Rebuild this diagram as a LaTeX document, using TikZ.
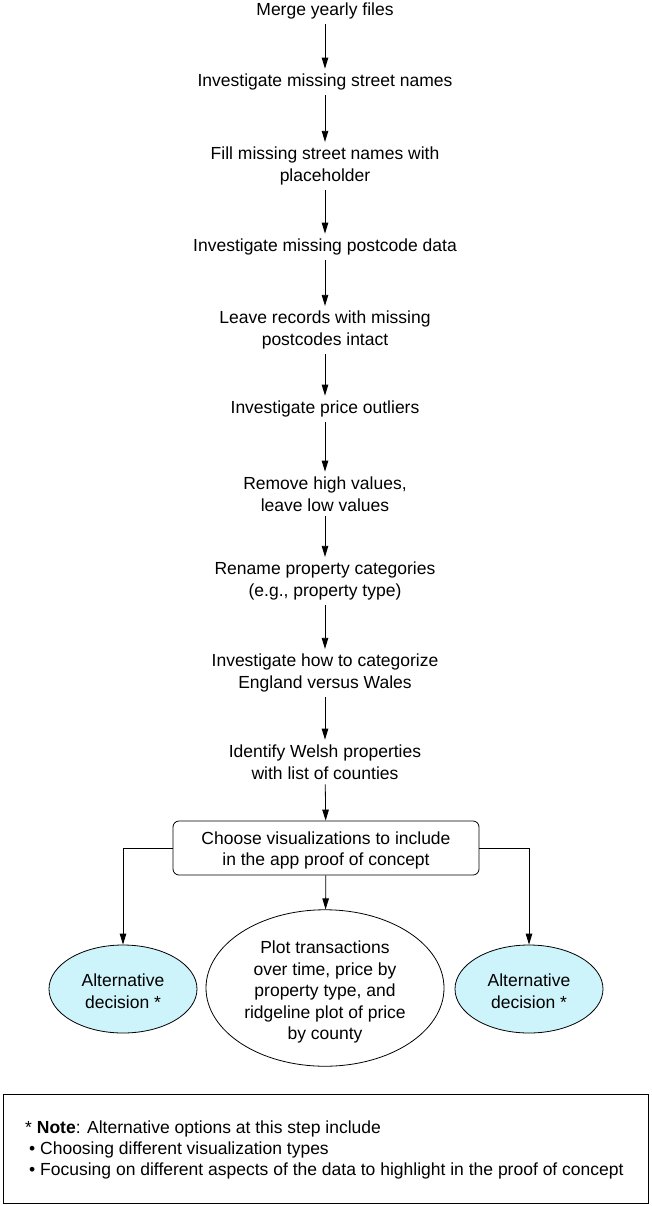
\documentclass[tikz,border=0pt]{standalone}
\usepackage{fontspec}
\setmainfont{Liberation Sans}
\usetikzlibrary{arrows.meta,shapes.geometric}
\definecolor{altfill}{RGB}{204,244,250}
\tikzset{
  stepnode/.style={align=center, inner xsep=2pt, inner ysep=5pt, font=\fontsize{17.5}{21.5}\selectfont},
  flow/.style={-{Triangle[length=11pt,width=6.5pt]}, line width=0.8pt},
  choicebox/.style={stepnode, draw, line width=0.8pt, rounded corners=6pt, minimum width=306pt, minimum height=54pt},
  altnode/.style={stepnode, ellipse, draw, line width=0.8pt, fill=altfill, minimum width=148pt, minimum height=88pt, inner sep=0pt},
  mainell/.style={stepnode, ellipse, draw, line width=0.8pt, minimum width=238pt, minimum height=140pt, inner sep=0pt},
}
\begin{document}
\begin{tikzpicture}[x=1pt,y=-1pt]
\useasboundingbox (0,0) rectangle (652,1206);
\node[stepnode] (n1) at (325,11) {Merge yearly files};
\node[stepnode] (n2) at (325,82) {Investigate missing street names};
\node[stepnode] (n3) at (325,166) {Fill missing street names with\\placeholder};
\node[stepnode] (n4) at (325,247) {Investigate missing postcode data};
\node[stepnode] (n5) at (325,330) {Leave records with missing\\postcodes intact};
\node[stepnode] (n6) at (325,409) {Investigate price outliers};
\node[stepnode] (n7) at (325,494) {Remove high values,\\leave low values};
\node[stepnode] (n8) at (325,581) {Rename property categories\\(e.g., property type)};
\node[stepnode] (n9) at (325,673) {Investigate how to categorize\\England versus Wales};
\node[stepnode] (n10) at (325,762) {Identify Welsh properties\\with list of counties};
\node[choicebox] (ch) at (326,848) {\rule{0pt}{17.5pt}Choose visualizations to include\\in the app proof of concept};
\node[altnode] (alt1) at (123,989) {\rule{0pt}{17pt}Alternative\\decision *};
\node[mainell] (plot) at (325,988) {\rule{0pt}{21pt}Plot transactions\\over time, price by\\property type, and\\ridgeline plot of price\\by county};
\node[altnode] (alt2) at (529,989) {\rule{0pt}{17pt}Alternative\\decision *};
\foreach \a/\b in {n1/n2,n2/n3,n3/n4,n4/n5,n5/n6,n6/n7,n7/n8,n8/n9,n9/n10,n10/ch}
  \draw[flow] (\a) -- (\b);
\draw[flow] (ch) -- (plot);
\draw[flow] (ch.west) -| (alt1.north);
\draw[flow] (ch.east) -| (alt2.north);
\node[draw, line width=0.8pt, minimum width=645pt, minimum height=109pt, inner sep=0pt] (notebox) at (325.5,1148.5) {};
\node[anchor=west, align=left, font=\fontsize{17.5}{21}\selectfont, inner sep=0pt] (notetext) at (25,1150)
  {* \textbf{Note}: Alternative options at this step include\\
   \hspace*{4pt}\textbullet\ Choosing different visualization types\\
   \hspace*{4pt}\textbullet\ Focusing on different aspects of the data to highlight in the proof of concept};
\end{tikzpicture}
\end{document}
